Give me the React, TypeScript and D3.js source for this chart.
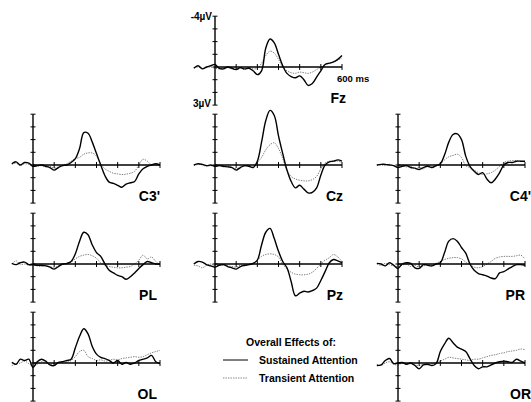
import React, { useEffect, useRef } from 'react';
import * as d3 from 'd3';

// time points (ms), 20 ms steps
const times = [
  -100, -80, -60, -40, -20, 0, 20, 40, 60, 80, 100, 120, 140, 160, 180, 200, 220, 240,
  260, 280, 300, 320, 340, 360, 380, 400, 420, 440, 460, 480, 500, 520, 540, 560, 580, 600,
];

// amplitudes in µV (negative plotted upward)
const fzSustained = [0.1, -0.1, 0.15, 0, -0.1, -0.2, 0.1, 0.15, 0, 0.1, 0.2, 0.05, 0.15, 0.1, 0.3, 0.6, 0.3, -1.5, -2.2, -1.9, -1.0, -0.1, 0.5, 0.75, 0.85, 0.7, 1.0, 1.45, 1.3, 0.8, 0.3, -0.2, -0.3, -0.4, -0.6, -0.9];
const fzTransient = [0.05, 0.0, 0.1, 0.05, 0.0, 0.1, 0.15, 0.1, 0.05, 0.15, 0.2, 0.1, 0.2, 0.05, 0.15, 0.1, -0.3, -0.9, -1.25, -1.1, -0.6, 0.0, 0.3, 0.45, 0.5, 0.4, 0.45, 0.5, 0.4, 0.2, 0.0, -0.2, -0.3, -0.4, -0.55, -0.7];

const c3Sustained = [-0.1, -0.25, 0.0, -0.2, -0.15, 0.1, 0.05, 0.0, 0.1, 0.2, 0.4, 0.2, 0.05, 0.0, -0.2, -0.5, -1.3, -2.55, -2.5, -1.8, -0.9, 0.0, 0.85, 1.35, 1.45, 1.6, 1.75, 1.5, 1.4, 1.3, 0.7, 0.3, 0.1, 0.0, -0.1, 0.0];
const c3Transient = [-0.05, -0.15, 0.05, -0.1, -0.05, 0.0, 0.1, 0.05, 0.15, 0.1, 0.25, 0.15, 0.0, -0.1, -0.3, -0.5, -0.6, -0.85, -0.95, -0.95, -0.7, -0.1, 0.3, 0.5, 0.65, 0.7, 0.75, 0.72, 0.65, 0.5, 0.0, -0.45, -0.3, 0.0, 0.05, 0.0];

const czSustained = [0.0, -0.1, -0.05, 0.05, 0.0, 0.1, 0.05, 0.1, 0.15, 0.2, 0.4, 0.2, 0.05, 0.1, 0.2, -0.3, -1.8, -3.5, -4.3, -3.9, -2.3, -0.9, 0.4, 1.3, 1.8, 1.6, 1.9, 2.2, 2.15, 1.8, 0.8, 0.0, -0.25, -0.3, -0.4, -0.3];
const czTransient = [0.05, -0.05, 0.0, 0.1, 0.05, 0.1, 0.0, 0.15, 0.1, 0.2, 0.3, 0.15, 0.1, 0.05, 0.1, -0.2, -0.6, -1.2, -1.6, -1.75, -1.3, -0.5, 0.45, 0.9, 1.1, 1.2, 1.25, 1.25, 1.15, 0.9, 0.3, -0.15, -0.3, -0.3, -0.3, -0.2];

const c4Sustained = [0.0, -0.05, -0.05, 0.0, 0.05, 0.2, 0.1, 0.05, 0.2, 0.25, 0.35, 0.2, 0.1, 0.2, 0.05, -0.1, -0.8, -1.8, -2.4, -2.45, -2.0, -0.7, 0.1, 0.5, 0.75, 0.6, 1.1, 1.4, 1.1, 0.6, 0.0, -0.2, -0.2, -0.3, -0.3, -0.3];
const c4Transient = [0.05, 0.0, 0.05, -0.05, 0.1, 0.15, 0.05, 0.15, 0.1, 0.3, 0.2, 0.3, 0.05, 0.15, 0.1, -0.1, -0.4, -0.65, -0.75, -0.85, -0.6, 0.05, 0.2, 0.4, 0.6, 0.75, 0.7, 0.6, 0.4, 0.1, -0.2, -0.3, -0.35, -0.35, -0.3, -0.25];

const plSustained = [-0.05, 0.05, -0.1, -0.15, 0.05, 0.05, 0.1, 0.1, 0.15, 0.25, 0.4, 0.2, 0.0, -0.05, -0.2, -0.8, -1.8, -2.5, -2.3, -1.5, -0.9, -0.6, 0.0, 0.5, 0.7, 0.9, 1.0, 1.2, 1.0, 0.7, 0.35, 0.05, -0.2, -0.1, 0.0, 0.0];
const plTransient = [0.0, -0.25, 0.05, 0.0, 0.1, 0.1, 0.15, 0.2, 0.1, 0.2, 0.3, 0.15, 0.05, 0.0, -0.15, -0.4, -0.6, -0.7, -0.75, -0.65, -0.45, -0.1, 0.1, 0.2, 0.25, 0.3, 0.3, 0.25, 0.2, 0.0, -0.3, -0.7, -0.4, -0.55, -0.2, 0.05];

const pzSustained = [0.0, -0.2, -0.15, 0.05, 0.15, 0.25, 0.1, 0.05, 0.2, 0.3, 0.4, 0.2, 0.1, 0.05, -0.05, -0.3, -1.5, -2.5, -2.8, -2.0, -1.0, -0.2, 0.3, 1.4, 2.5, 2.3, 2.15, 2.2, 2.1, 1.9, 1.3, 0.6, -0.1, -0.35, -0.25, -0.1];
const pzTransient = [0.1, 0.15, 0.3, 0.1, 0.0, 0.15, 0.05, 0.1, 0.15, 0.2, 0.25, 0.1, 0.15, 0.05, 0.0, -0.3, -0.6, -0.75, -0.8, -0.75, -0.55, 0.0, 0.4, 0.65, 0.8, 0.85, 0.85, 0.8, 0.65, 0.35, 0.0, -0.3, -0.5, -0.75, -0.55, -0.2];

const prSustained = [-0.05, 0.0, 0.15, -0.1, 0.1, 0.35, 0.0, -0.1, -0.05, 0.3, 0.35, 0.05, 0.1, 0.15, 0.0, -0.1, -0.9, -1.8, -2.0, -1.8, -1.3, -0.85, 0.0, 0.5, 0.75, 0.85, 0.95, 1.1, 1.15, 0.7, 0.6, 0.4, 0.2, 0.05, 0.05, 0.1];
const prTransient = [0.0, 0.1, -0.05, 0.05, 0.15, 0.2, 0.1, 0.0, 0.2, 0.1, 0.25, 0.15, 0.0, 0.1, -0.05, -0.2, -0.35, -0.45, -0.5, -0.5, -0.4, -0.15, 0.05, 0.25, 0.3, 0.2, 0.0, -0.2, -0.45, -0.55, -0.6, -0.6, -0.6, -0.65, -0.7, -0.4];

const olSustained = [-0.05, 0.1, -0.3, -0.2, -0.3, 0.35, -0.1, -0.3, -0.15, 0.15, 0.2, -0.05, -0.1, -0.2, -0.3, -1.2, -2.1, -2.7, -2.3, -1.3, -0.7, -0.45, -0.35, -0.2, 0.0, -0.2, 0.1, -0.05, 0.1, 0.0, -0.2, -0.3, -0.4, -0.6, -0.1, 0.05];
const olTransient = [0.2, 0.1, 0.0, -0.15, 0.05, 0.25, 0.1, -0.1, 0.0, 0.1, 0.05, 0.0, -0.1, -0.05, -0.2, -0.5, -0.9, -1.0, -0.5, -0.35, -0.2, -0.25, -0.15, -0.2, -0.3, -0.25, -0.35, -0.4, -0.45, -0.5, -0.45, -0.5, -0.65, -0.8, -0.9, -1.0];

const orSustained = [0.2, 0.15, -0.2, -0.35, 0.05, 0.0, -0.05, 0.1, 0.0, 0.2, 0.45, 0.15, 0.1, 0.2, 0.05, -0.9, -1.5, -1.95, -1.6, -1.25, -1.1, -0.9, -0.35, 0.2, 0.45, 0.3, 0.3, 0.15, 0.0, -0.1, -0.15, -0.1, -0.05, -0.3, -0.15, 0.0];
const orTransient = [0.1, 0.2, 0.0, -0.1, 0.1, 0.15, 0.0, 0.1, 0.05, 0.15, 0.2, 0.1, 0.15, 0.05, 0.0, -0.15, -0.3, -0.45, -0.4, -0.35, -0.3, -0.25, -0.2, -0.3, -0.3, -0.4, -0.5, -0.6, -0.65, -0.75, -0.8, -0.9, -0.95, -1.0, -1.1, -1.05];

const yTicks = [-4, -3, -2, -1, 0, 1, 2, 3];
const xTicks = [0, 100, 200, 300, 400, 500, 600];
const legendTitle = 'Overall Effects of:';
const legendItems = ['Sustained Attention', 'Transient Attention'];

const panels = [
  { name: 'Fz', sustained: fzSustained, transient: fzTransient },
  { name: "C3'", sustained: c3Sustained, transient: c3Transient },
  { name: 'Cz', sustained: czSustained, transient: czTransient },
  { name: "C4'", sustained: c4Sustained, transient: c4Transient },
  { name: 'PL', sustained: plSustained, transient: plTransient },
  { name: 'Pz', sustained: pzSustained, transient: pzTransient },
  { name: 'PR', sustained: prSustained, transient: prTransient },
  { name: 'OL', sustained: olSustained, transient: olTransient },
  { name: 'OR', sustained: orSustained, transient: orTransient },
];

// panel placement: y-axis x, baseline y, label right edge
const layout = {
  Fz: { ax: 215, by: 67, lx: 346 },
  "C3'": { ax: 33, by: 165, lx: 160 },
  Cz: { ax: 215, by: 165, lx: 343 },
  "C4'": { ax: 398, by: 165, lx: 531 },
  PL: { ax: 33, by: 264, lx: 157 },
  Pz: { ax: 215, by: 264, lx: 343 },
  PR: { ax: 398, by: 264, lx: 525 },
  OL: { ax: 33, by: 363, lx: 157 },
  OR: { ax: 398, by: 363, lx: 531 },
};

const FONT = "'Liberation Sans', Arial, Helvetica, sans-serif";

const App = () => {
  const ref = useRef(null);

  useEffect(() => {
    const svg = d3.select(ref.current);
    svg.selectAll('*').remove();
    svg.append('rect').attr('width', 531).attr('height', 402).attr('fill', '#fff');

    const x = d3.scaleLinear().domain([0, 600]).range([0, 127]);
    const y = d3.scaleLinear().domain([-4, 3]).range([-50.8, 38.1]);

    const line = d3.line()
      .x((d) => x(d[0]))
      .y((d) => y(d[1]))
      .curve(d3.curveCatmullRom.alpha(0.5));

    panels.forEach((p) => {
      const pos = layout[p.name];
      const g = svg.append('g').attr('transform', `translate(${pos.ax},${pos.by})`);

      // transient (dotted, grey)
      g.append('path')
        .datum(times.map((t, i) => [t, p.transient[i]]))
        .attr('fill', 'none')
        .attr('stroke', '#808080')
        .attr('stroke-width', 1)
        .attr('stroke-dasharray', '1.4,1.1')
        .attr('d', line);

      // x axis
      g.append('line')
        .attr('x1', x(0)).attr('x2', x(600))
        .attr('y1', 0).attr('y2', 0)
        .attr('stroke', '#000').attr('stroke-width', 1.4);
      g.selectAll('.xt')
        .data(xTicks.slice(1))
        .enter()
        .append('line')
        .attr('x1', (d) => x(d)).attr('x2', (d) => x(d))
        .attr('y1', -3).attr('y2', 3)
        .attr('stroke', '#000').attr('stroke-width', 1);

      // y axis
      g.append('line')
        .attr('x1', 0).attr('x2', 0)
        .attr('y1', y(-4)).attr('y2', y(3))
        .attr('stroke', '#000').attr('stroke-width', 1.4);
      g.selectAll('.yt')
        .data(yTicks)
        .enter()
        .append('line')
        .attr('x1', -2.5).attr('x2', 2.5)
        .attr('y1', (d) => y(d)).attr('y2', (d) => y(d))
        .attr('stroke', '#000').attr('stroke-width', 1);

      // sustained (solid, black)
      g.append('path')
        .datum(times.map((t, i) => [t, p.sustained[i]]))
        .attr('fill', 'none')
        .attr('stroke', '#000')
        .attr('stroke-width', 1.4)
        .attr('stroke-linejoin', 'round')
        .attr('d', line);

      // electrode label
      svg.append('text')
        .attr('x', pos.lx)
        .attr('y', pos.by + 36)
        .attr('text-anchor', 'end')
        .style('font-family', FONT)
        .style('font-weight', 'bold')
        .style('font-size', '14px')
        .text(p.name);

      if (p.name === 'Fz') {
        g.append('text')
          .attr('x', -3).attr('y', y(-4) + 4)
          .attr('text-anchor', 'end')
          .style('font-family', FONT).style('font-weight', 'bold').style('font-size', '10px')
          .text('-4µV');
        g.append('text')
          .attr('x', -4).attr('y', y(3) + 2)
          .attr('text-anchor', 'end')
          .style('font-family', FONT).style('font-weight', 'bold').style('font-size', '10px')
          .text('3µV');
        g.append('text')
          .attr('x', x(600) - 5).attr('y', 15)
          .style('font-family', FONT).style('font-weight', 'bold').style('font-size', '9.5px')
          .text('600 ms');
      }
    });

    // legend
    const lg = svg.append('g');
    lg.append('text')
      .attr('x', 291).attr('y', 346)
      .attr('text-anchor', 'middle')
      .style('font-family', FONT).style('font-weight', 'bold').style('font-size', '10.5px')
      .text(legendTitle);
    legendItems.forEach((label, i) => {
      const ly = 360 + i * 18;
      lg.append('line')
        .attr('x1', 223).attr('x2', 248)
        .attr('y1', ly).attr('y2', ly)
        .attr('stroke', i === 0 ? '#000' : '#808080')
        .attr('stroke-width', 1)
        .attr('stroke-dasharray', i === 0 ? null : '1.4,1.1');
      lg.append('text')
        .attr('x', 259).attr('y', ly + 4)
        .style('font-family', FONT).style('font-weight', 'bold').style('font-size', '10.5px')
        .text(label);
    });
  }, []);

  return (
    <svg
      ref={ref}
      width={531}
      height={402}
      style={{ position: 'absolute', left: 0, top: 0 }}
    />
  );
};

export default App;
